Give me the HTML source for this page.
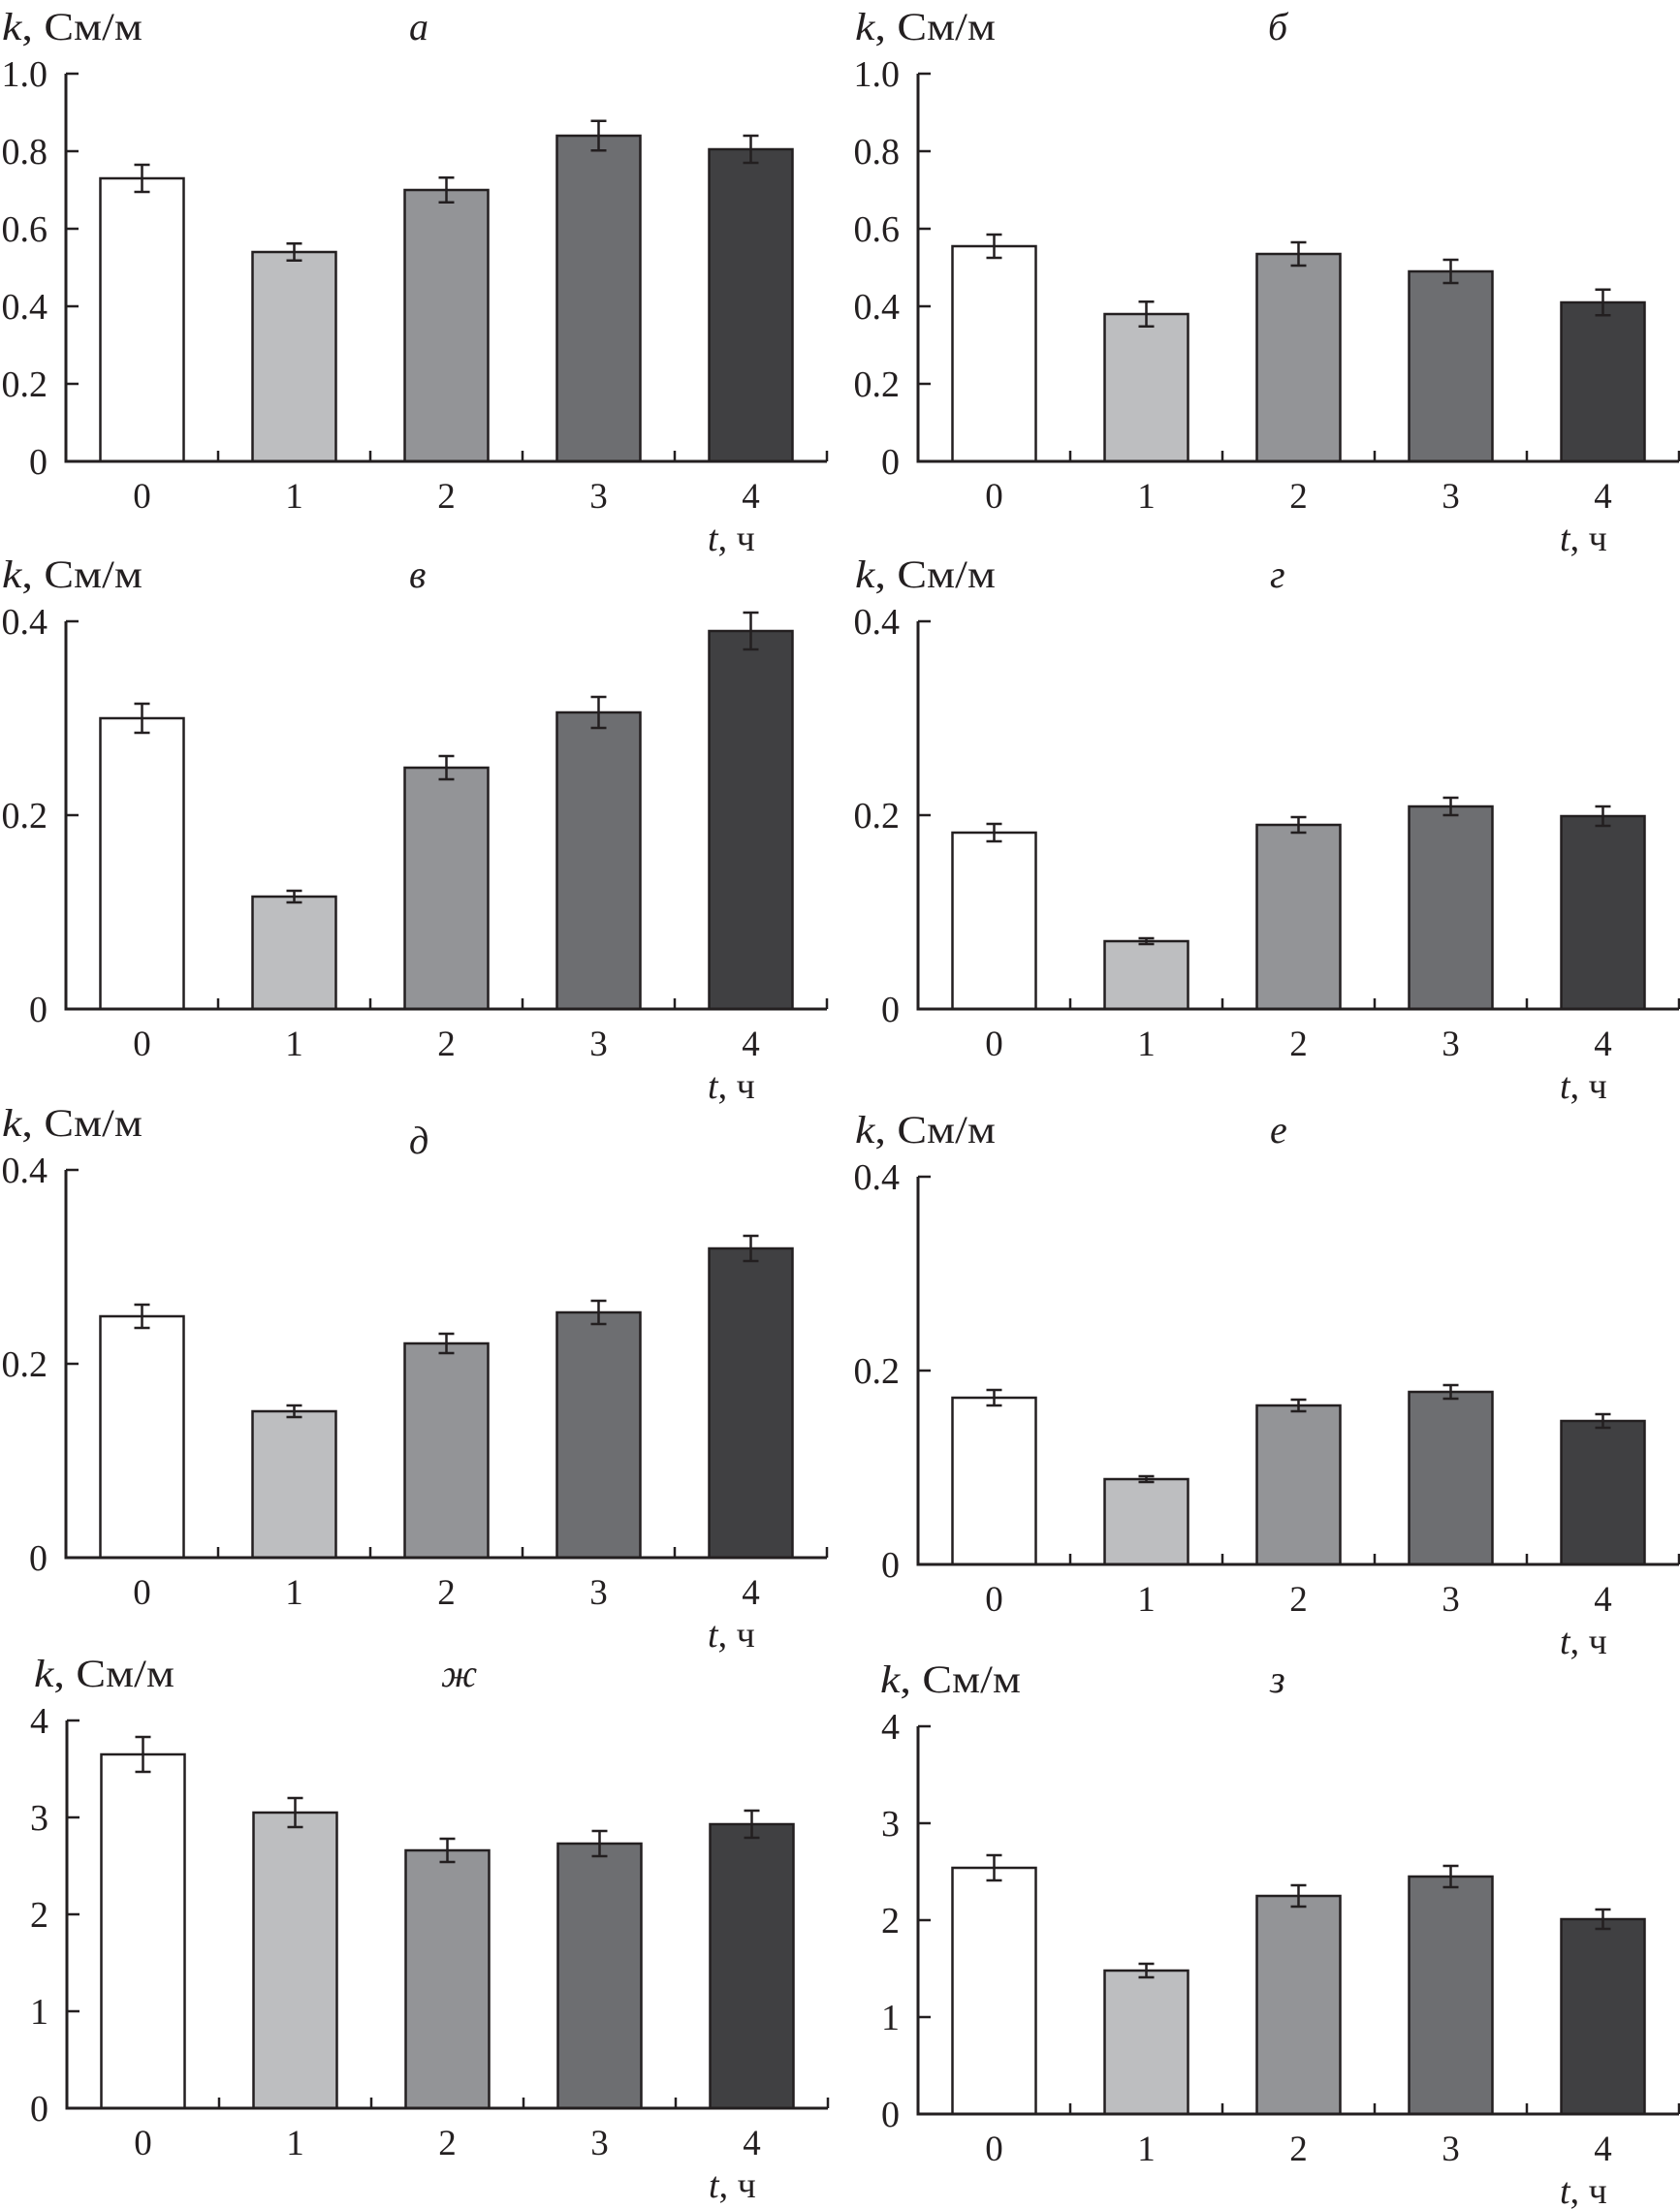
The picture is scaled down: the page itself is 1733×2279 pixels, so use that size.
<!DOCTYPE html>
<html><head><meta charset="utf-8">
<style>
html,body{margin:0;padding:0;background:#fff;}
svg{display:block;}
text{font-family:"Liberation Serif","DejaVu Serif",serif;fill:#231f20;}
</style></head>
<body>
<svg id="fig" width="1733" height="2279" viewBox="0 0 1733 2279" xmlns="http://www.w3.org/2000/svg"></svg>
<script>
// Data
const categories = ["0","1","2","3","4"];
const panelTitles = ["а","б","в","г","д","е","ж","з"];
const valsA = [0.73,0.54,0.70,0.84,0.805];
const errA  = [0.035,0.022,0.032,0.038,0.035];
const valsB = [0.555,0.38,0.535,0.49,0.41];
const errB  = [0.03,0.032,0.03,0.03,0.033];
const valsV = [0.300,0.116,0.249,0.306,0.390];
const errV  = [0.015,0.006,0.012,0.016,0.019];
const valsG = [0.182,0.070,0.190,0.209,0.199];
const errG  = [0.009,0.003,0.008,0.009,0.010];
const valsD = [0.249,0.151,0.221,0.253,0.319];
const errD  = [0.012,0.006,0.010,0.012,0.013];
const valsE = [0.172,0.088,0.164,0.178,0.148];
const errE  = [0.008,0.003,0.006,0.007,0.007];
const valsZh = [3.65,3.05,2.66,2.73,2.93];
const errZh  = [0.18,0.15,0.12,0.13,0.14];
const valsZ = [2.54,1.48,2.25,2.45,2.01];
const errZ  = [0.13,0.07,0.11,0.11,0.10];
const ticks1 = ["0","0.2","0.4","0.6","0.8","1.0"];
const ticks04 = ["0","0.2","0.4"];
const ticks4 = ["0","1","2","3","4"];

const NS="http://www.w3.org/2000/svg";
const svg=document.getElementById('fig');
const fills=["#ffffff","#bdbec0","#939497","#6d6e71","#404042"];
const ink="#231f20";
function mk(tag,attrs,parent){const e=document.createElementNS(NS,tag);for(const k in attrs)e.setAttribute(k,attrs[k]);(parent||svg).appendChild(e);return e;}

const panels=[
 {vals:valsA,err:errA,ticks:ticks1,max:1.0,ax:68,top:76,title:0,lx:2,tx:422,ty:0},
 {vals:valsB,err:errB,ticks:ticks1,max:1.0,ax:947,top:76,title:1,lx:882,tx:1308,ty:0},
 {vals:valsV,err:errV,ticks:ticks04,max:0.4,ax:68,top:641,title:2,lx:2,tx:422,ty:0},
 {vals:valsG,err:errG,ticks:ticks04,max:0.4,ax:947,top:641,title:3,lx:882,tx:1310,ty:0},
 {vals:valsD,err:errD,ticks:ticks04,max:0.4,ax:68,top:1207,title:4,lx:2,tx:422,ty:18},
 {vals:valsE,err:errE,ticks:ticks04,max:0.4,ax:947,top:1214,title:5,lx:882,tx:1310,ty:0},
 {vals:valsZh,err:errZh,ticks:ticks4,max:4,ax:69,top:1775,title:6,lx:35,tx:455,ty:0},
 {vals:valsZ,err:errZ,ticks:ticks4,max:4,ax:947,top:1781,title:7,lx:908,tx:1310,ty:0}
];
const H=400, CW=157, BW=86;

panels.forEach((p,pi)=>{
  const g=mk('g',{});
  
  
  const base=p.top+H;
  const y=v=>base - v/p.max*H;
  const x=i=>p.ax + CW*(i+0.5);
  p.vals.forEach((v,i)=>{
    const r=mk('rect',{x:x(i)-BW/2,y:y(v),width:BW,height:base-y(v),fill:fills[i],stroke:ink,'stroke-width':2.5},g);
    
    
    const e=p.err[i];
    const eb=mk('path',{d:`M${x(i)},${y(v+e)}V${y(v-e)}M${x(i)-8},${y(v+e)}H${x(i)+8}M${x(i)-8},${y(v-e)}H${x(i)+8}`,stroke:ink,'stroke-width':2.5,fill:'none'},g);
    
    
    const t=mk('text',{x:x(i),y:base+48,'font-size':37,'text-anchor':'middle'},g);
    t.textContent=categories[i];
    
    
  });
  const axis=mk('path',{d:`M${p.ax},${p.top}V${base}H${p.ax+CW*5}`,stroke:ink,'stroke-width':3,fill:'none'},g);
  
  
  for(let i=1;i<=5;i++){
    mk('line',{x1:p.ax+CW*i,x2:p.ax+CW*i,y1:base,y2:base-11,stroke:ink,'stroke-width':2.5},g);
  }
  const n=p.ticks.length;
  p.ticks.forEach((lab,k)=>{
    const v=p.max*k/(n-1);
    mk('line',{x1:p.ax,x2:p.ax+13,y1:y(v),y2:y(v),stroke:ink,'stroke-width':2.5},g);
    const t=mk('text',{x:p.ax-19,y:y(v)+13,'font-size':38,'text-anchor':'end'},g);
    t.textContent=lab;
    
    
  });
  const yt=mk('text',{x:p.lx,y:p.top-35,'font-size':40,textLength:145,lengthAdjust:'spacingAndGlyphs'},g);
  yt.innerHTML='<tspan font-style="italic">k</tspan>, См/м';
  
  
  const pt=mk('text',{x:p.tx,y:p.top-35+p.ty,'font-size':40,'font-style':'italic'},g);
  pt.textContent=panelTitles[p.title];
  
  
  const xt=mk('text',{x:p.ax+662,y:base+92,'font-size':38},g);
  xt.innerHTML='<tspan font-style="italic">t</tspan>, ч';
  
  
});
</script>
</body></html>
